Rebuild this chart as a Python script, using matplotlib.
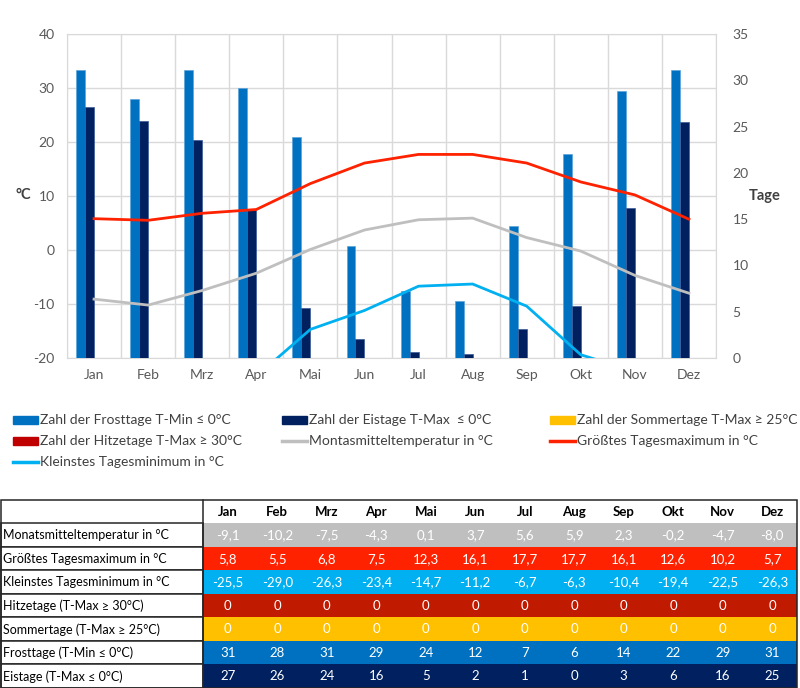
import matplotlib
matplotlib.use('Agg')
import matplotlib.pyplot as plt
import numpy as np
from matplotlib.patches import Rectangle
from matplotlib.lines import Line2D

plt.rcParams['font.family'] = ['Lato', 'DejaVu Sans']
plt.rcParams['axes.unicode_minus'] = False

# ---------------- data ----------------
months = ['Jan', 'Feb', 'Mrz', 'Apr', 'Mai', 'Jun', 'Jul', 'Aug', 'Sep', 'Okt', 'Nov', 'Dez']

# chart bar values (days)
frost_days = [31.1, 28.0, 31.1, 29.2, 23.9, 12.1, 7.2, 6.2, 14.3, 22.0, 28.8, 31.1]
ice_days = [27.1, 25.6, 23.6, 16.0, 5.4, 2.0, 0.7, 0.4, 3.1, 5.6, 16.2, 25.5]
summer_days = [0, 0, 0, 0, 0, 0, 0, 0, 0, 0, 0, 0]
hot_days = [0, 0, 0, 0, 0, 0, 0, 0, 0, 0, 0, 0]

# temperature lines (°C)
mean_temp = [-9.1, -10.2, -7.5, -4.3, 0.1, 3.7, 5.6, 5.9, 2.3, -0.2, -4.7, -8.0]
max_temp = [5.8, 5.5, 6.8, 7.5, 12.3, 16.1, 17.7, 17.7, 16.1, 12.6, 10.2, 5.7]
min_temp = [-25.5, -29.0, -26.3, -23.4, -14.7, -11.2, -6.7, -6.3, -10.4, -19.4, -22.5, -26.3]

# table day counts
frost_table = [31, 28, 31, 29, 24, 12, 7, 6, 14, 22, 29, 31]
ice_table = [27, 26, 24, 16, 5, 2, 1, 0, 3, 6, 16, 25]

legend_labels = ['Zahl der Frosttage T-Min ≤ 0°C', 'Zahl der Eistage T-Max  ≤ 0°C',
                 'Zahl der Sommertage T-Max ≥ 25°C', 'Zahl der Hitzetage T-Max ≥ 30°C',
                 'Montasmitteltemperatur in °C', 'Größtes Tagesmaximum in °C',
                 'Kleinstes Tagesminimum in °C']
row_labels = ['Monatsmitteltemperatur in °C', 'Größtes Tagesmaximum in °C',
              'Kleinstes Tagesminimum in °C', 'Hitzetage (T-Max ≥ 30°C)',
              'Sommertage (T-Max ≥ 25°C)', 'Frosttage (T-Min ≤ 0°C)',
              'Eistage (T-Max ≤ 0°C)']

# ---------------- colors ----------------
c_frost = '#0070C0'
c_ice = '#002060'
c_summer = '#FFC000'
c_hot = '#C00000'
c_mean = '#BFBFBF'
c_max = '#FF2200'
c_min = '#00B0F0'
c_tick = '#595959'
c_grid = '#D9D9D9'

W, H = 800, 688
fig = plt.figure(figsize=(W / 100, H / 100), dpi=100)

# ---------------- chart ----------------
L, R, T, B = 67, 716, 34, 358
ax = fig.add_axes([L / W, 1 - B / H, (R - L) / W, (B - T) / H])
x = np.arange(len(months))
ax.set_xlim(-0.5, 11.5)
ax.set_ylim(-20, 40)
ax.set_yticks(np.arange(-20, 41, 10))
ax.set_xticks(x)
ax.set_xticklabels(months)
ax.set_xticks(np.arange(-0.5, 12, 1), minor=True)
ax.grid(axis='y', which='major', color=c_grid, lw=1.0)
ax.grid(axis='x', which='minor', color=c_grid, lw=1.0)
ax.tick_params(which='both', length=0, labelsize=10, colors=c_tick)
ax.tick_params(axis='x', pad=8)
ax.tick_params(axis='y', pad=9)
for s in ax.spines.values():
    s.set_color(c_grid)
ax.set_axisbelow(True)

axb = ax.twinx()
axb.set_ylim(0, 35)
axb.set_yticks(np.arange(0, 36, 5))
axb.tick_params(length=0, labelsize=10, colors=c_tick, pad=12)
for s in axb.spines.values():
    s.set_visible(False)
axb.patch.set_visible(False)

bw = 0.166
series = [(frost_days, c_frost, '#5FA3DC'), (ice_days, c_ice, '#3B5A99'),
          (summer_days, c_summer, c_summer), (hot_days, c_hot, c_hot)]
for i, (vals, col, ec) in enumerate(series):
    axb.bar(x + (i - 1.5) * bw, vals, bw, color=col, edgecolor=ec, lw=0.5, zorder=2)

axl = ax.twinx()
axl.set_ylim(-20, 40)
axl.set_yticks([])
for s in axl.spines.values():
    s.set_visible(False)
axl.patch.set_visible(False)
axl.plot(x, mean_temp, color=c_mean, lw=2.0, solid_joinstyle='round')
axl.plot(x, max_temp, color=c_max, lw=2.0, solid_joinstyle='round')
axl.plot(x, min_temp, color=c_min, lw=2.0, solid_joinstyle='round')

fig.text(23 / W, 1 - 195 / H, '°C', ha='center', va='center', fontsize=10.5,
         fontweight='bold', color='#404040')
fig.text(765 / W, 1 - 196 / H, 'Tage', ha='center', va='center', fontsize=10.5,
         fontweight='bold', color='#404040')

# ---------------- overlay for legend & table ----------------
ov = fig.add_axes([0, 0, 1, 1])
ov.set_xlim(0, W)
ov.set_ylim(H, 0)
ov.axis('off')

leg_items = [('patch', c_frost), ('patch', c_ice), ('patch', c_summer),
             ('patch', c_hot), ('line', c_mean), ('line', c_max), ('line', c_min)]
col_x = [13, 282, 550]
row_y = [420, 441, 462]
for k, (lab, (kind, col)) in enumerate(zip(legend_labels, leg_items)):
    cx = col_x[k % 3]
    cy = row_y[k // 3]
    if kind == 'patch':
        ov.add_patch(Rectangle((cx, cy - 4), 25, 8, color=col))
    else:
        ov.add_line(Line2D([cx, cx + 25], [cy, cy], color=col, lw=2.5))
    ov.text(cx + 27, cy, lab, ha='left', va='center', fontsize=10, color='#404040')

# table
t_top = 500
hdr_h = 23
row_h = 23.5
lab_x0, lab_x1 = 1, 203
t_right = 797
col_w = (t_right - lab_x1) / 12

def fmt(v):
    return f'{v:.1f}'.replace('.', ',')

rows_vals = [[fmt(v) for v in mean_temp],
             [fmt(v) for v in max_temp],
             [fmt(v) for v in min_temp],
             [str(v) for v in hot_days],
             [str(v) for v in summer_days],
             [str(v) for v in frost_table],
             [str(v) for v in ice_table]]
row_colors = [c_mean, c_max, c_min, '#C01A00', c_summer, c_frost, c_ice]

for j, m in enumerate(months):
    ov.text(lab_x1 + (j + 0.5) * col_w, t_top + hdr_h / 2 + 1, m, ha='center',
            va='center', fontsize=9.5, fontweight='bold', color='black')

for i, (lab, vals, rc) in enumerate(zip(row_labels, rows_vals, row_colors)):
    y0 = t_top + hdr_h + i * row_h
    ov.add_patch(Rectangle((lab_x1, y0), t_right - lab_x1, row_h, facecolor=rc,
                           edgecolor='none'))
    ov.add_patch(Rectangle((lab_x0, y0), lab_x1 - lab_x0, row_h, facecolor='white',
                           edgecolor='#262626', lw=1.1))
    ov.text(lab_x0 + 2, y0 + row_h / 2 + 0.5, lab, ha='left', va='center',
            fontsize=9, color='black')
    for j, v in enumerate(vals):
        ov.text(lab_x1 + (j + 0.5) * col_w, y0 + row_h / 2 + 0.5, v, ha='center',
                va='center', fontsize=9.5, color='white')

t_bot = t_top + hdr_h + 7 * row_h
ov.add_patch(Rectangle((lab_x0, t_top), t_right - lab_x0, t_bot - t_top,
                       facecolor='none', edgecolor='#262626', lw=1.1))
ov.add_line(Line2D([lab_x1, lab_x1], [t_top, t_bot], color='#262626', lw=1.1))

fig.savefig('out.png', dpi=100)
